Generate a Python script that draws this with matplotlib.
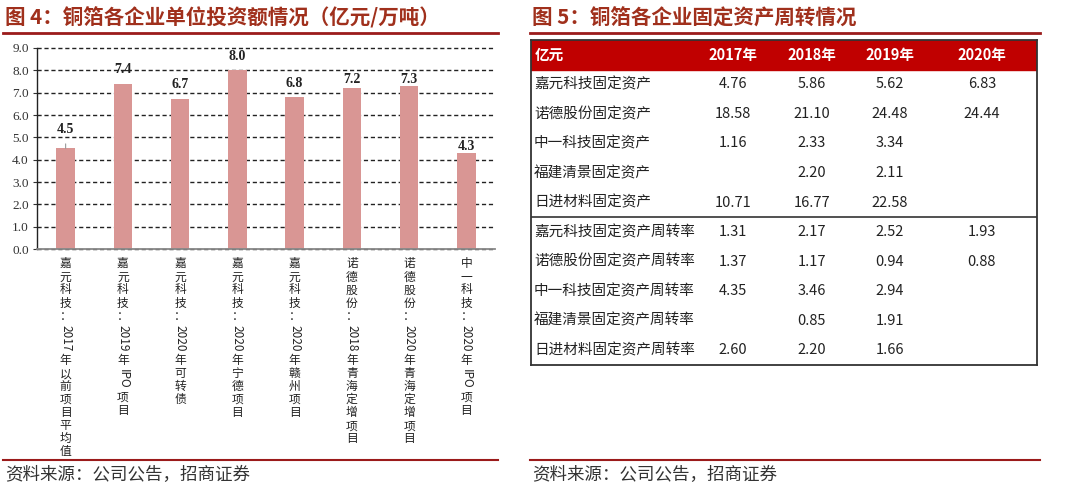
import re
import matplotlib
matplotlib.use('Agg')
import matplotlib.pyplot as plt
from matplotlib.lines import Line2D

plt.rcParams['font.family'] = ['Noto Sans CJK SC', 'DejaVu Sans']

# ---------------- data ----------------
categories = [
    '嘉元科技：2017年以前项目平均值',
    '嘉元科技：2019年IPO项目',
    '嘉元科技：2020年可转债',
    '嘉元科技：2020年宁德项目',
    '嘉元科技：2020年赣州项目',
    '诺德股份：2018年青海定增项目',
    '诺德股份：2020年青海定增项目',
    '中一科技：2020年IPO项目',
]
values = [4.5, 7.4, 6.7, 8.0, 6.8, 7.2, 7.3, 4.3]
yticks = [0, 1, 2, 3, 4, 5, 6, 7, 8, 9]

table_unit = '亿元'
years = ['2017年', '2018年', '2019年', '2020年']
asset_rows = ['嘉元科技固定资产', '诺德股份固定资产', '中一科技固定资产',
              '福建清景固定资产', '日进材料固定资产']
asset_vals = [
    [4.76, 5.86, 5.62, 6.83],
    [18.58, 21.10, 24.48, 24.44],
    [1.16, 2.33, 3.34, None],
    [None, 2.20, 2.11, None],
    [10.71, 16.77, 22.58, None],
]
turn_rows = ['嘉元科技固定资产周转率', '诺德股份固定资产周转率', '中一科技固定资产周转率',
             '福建清景固定资产周转率', '日进材料固定资产周转率']
turn_vals = [
    [1.31, 2.17, 2.52, 1.93],
    [1.37, 1.17, 0.94, 0.88],
    [4.35, 3.46, 2.94, None],
    [None, 0.85, 1.91, None],
    [2.60, 2.20, 1.66, None],
]

title_left = '图 4：铜箔各企业单位投资额情况（亿元/万吨）'
title_right = '图 5：铜箔各企业固定资产周转情况'
source = '资料来源：公司公告，招商证券'

# ---------------- style ----------------
W, H = 1080, 490
def fx(px): return px / W
def fy(py): return 1 - py / H

title_color = '#A0301C'
rule_color = '#9B1B1B'
bar_color = '#D99694'
serif = ['Liberation Serif', 'DejaVu Serif']
label_lift_pt = [14, 10, 10.5, 10, 10, 6.5, 5, 4.5]

fig = plt.figure(figsize=(10.8, 4.9), dpi=100)

# ---------------- left chart ----------------
ax = fig.add_axes([fx(37), fy(249), fx(495) - fx(37), fy(48) - fy(249)])
x = list(range(len(categories)))
ax.bar(x, values, width=0.32, color=bar_color, zorder=3)
ax.set_xlim(-0.5, len(categories) - 0.5)
ax.set_ylim(0, 9)
ax.set_yticks(yticks)
ax.set_yticklabels([f'{v:.1f}' for v in yticks], fontfamily=serif, fontsize=9.5, color='#333333')
ax.set_xticks(x)
ax.set_xticklabels([])
ax.tick_params(axis='x', length=0)
ax.tick_params(axis='y', length=3, width=0.8, color='#333333', pad=3)
ax.yaxis.grid(True, color='#222222', linestyle=(0, (3, 2)), linewidth=1.0)
for gl in ax.get_ygridlines():
    gl.set_clip_on(False)
ax.set_axisbelow(True)
for s in ['top', 'right']:
    ax.spines[s].set_visible(False)
ax.spines['left'].set_color('#222222')
ax.spines['left'].set_linewidth(1.0)
ax.spines['bottom'].set_color('#888888')
ax.spines['bottom'].set_linewidth(1.3)
ax.spines['bottom'].set_zorder(4)

for i, v in enumerate(values):
    lift = label_lift_pt[i]
    props = None
    if lift > 12:
        props = dict(arrowstyle='-', color='#999999', lw=0.8, shrinkA=4, shrinkB=0)
    ax.annotate(f'{v:.1f}', xy=(i, v), xytext=(0, lift), textcoords='offset points',
                ha='center', va='center', fontfamily=serif, fontweight='bold',
                fontsize=10, color='#222222', arrowprops=props, zorder=5)

# vertical (stacked) category labels
fs = 8.5
pitch = 9.4
for i, lab in enumerate(categories):
    y = -6.0
    for tok in re.findall(r'[A-Za-z0-9]+|.', lab):
        if tok.isascii():
            adv = len(tok) * 0.62 * fs + 1.5
            ax.annotate(tok, xy=(i, 0), xycoords=('data', 'axes fraction'),
                        xytext=(0, y - adv / 2), textcoords='offset points',
                        rotation=270, ha='center', va='center', fontsize=fs,
                        color='#222222', annotation_clip=False)
        else:
            adv = pitch
            ax.annotate(tok, xy=(i, 0), xycoords=('data', 'axes fraction'),
                        xytext=(0, y - adv / 2), textcoords='offset points',
                        ha='center', va='center', fontsize=fs,
                        color='#222222', annotation_clip=False)
        y -= adv

# ---------------- right table ----------------
tx = fig.add_axes([fx(531), fy(365), fx(1037) - fx(531), fy(40) - fy(365)])
nrows = 1 + len(asset_rows) + len(turn_rows)
tx.set_xlim(0, 1)
tx.set_ylim(nrows, 0)
tx.set_xticks([])
tx.set_yticks([])
for s in tx.spines.values():
    s.set_color('#333333')
    s.set_linewidth(1.3)
tx.axhspan(0, 1, color='#C00000', zorder=1)
tx.axhline(1 + len(asset_rows), color='#333333', lw=1.2)

col_x = [0.399, 0.555, 0.709, 0.891]
tfs = 10.5
tx.text(0.008, 0.5, table_unit, ha='left', va='center', fontsize=tfs,
        fontweight='bold', color='white', zorder=3)
for cx, yr in zip(col_x, years):
    tx.text(cx, 0.5, yr, ha='center', va='center', fontsize=tfs,
            fontweight='bold', color='white', zorder=3)

rows_all = list(zip(asset_rows, asset_vals)) + list(zip(turn_rows, turn_vals))
for r, (name, vals) in enumerate(rows_all, start=1):
    yc = r + 0.5
    tx.text(0.006, yc, name, ha='left', va='center', fontsize=tfs, color='#222222')
    for cx, v in zip(col_x, vals):
        if v is not None:
            tx.text(cx, yc, f'{v:.2f}', ha='center', va='center', fontsize=tfs,
                    color='#222222')

# ---------------- titles, rules, sources ----------------
fig.text(fx(5), fy(18), title_left, fontsize=14.8, fontweight='bold',
         color=title_color, va='center', ha='left')
fig.text(fx(532), fy(18), title_right, fontsize=14.8, fontweight='bold',
         color=title_color, va='center', ha='left')
fig.add_artist(Line2D([fx(3), fx(498)], [fy(33), fy(33)], color=rule_color, lw=2.0))
fig.add_artist(Line2D([fx(530), fx(1040)], [fy(33), fy(33)], color=rule_color, lw=2.0))
fig.add_artist(Line2D([fx(3), fx(498)], [fy(460), fy(460)], color=rule_color, lw=1.5))
fig.add_artist(Line2D([fx(530), fx(1040)], [fy(460), fy(460)], color=rule_color, lw=1.5))
fig.text(fx(5), fy(475), source, fontsize=12.6, color='#333333', va='center', ha='left')
fig.text(fx(532), fy(475), source, fontsize=12.6, color='#333333', va='center', ha='left')

fig.savefig('out.png', dpi=100)
